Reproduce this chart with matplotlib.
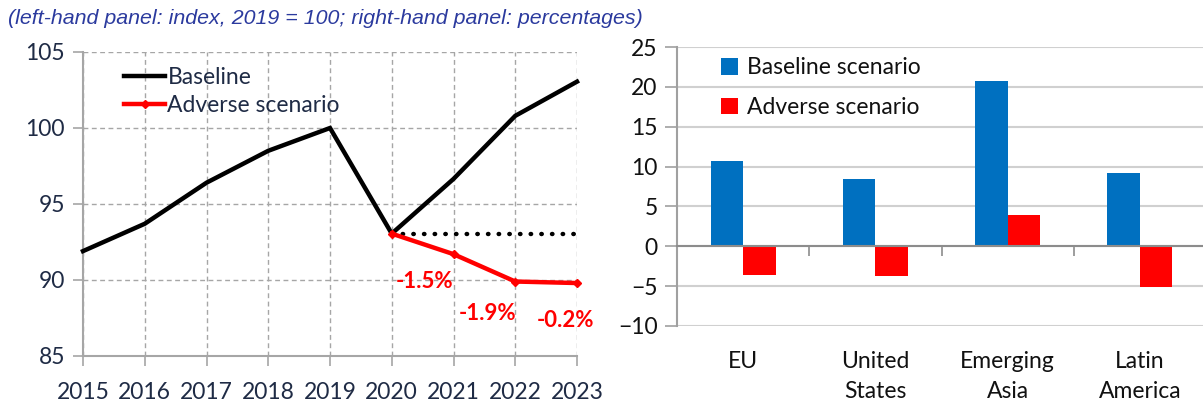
import matplotlib
matplotlib.use("Agg")
import matplotlib.pyplot as plt
import numpy as np
from matplotlib.lines import Line2D

# ---- data ----
years = [2015, 2016, 2017, 2018, 2019, 2020, 2021, 2022, 2023]
baseline_index = [91.9, 93.7, 96.4, 98.5, 100.0, 93.05, 96.65, 100.8, 103.05]
adverse_years = [2020, 2021, 2022, 2023]
adverse_index = [93.05, 91.7, 89.9, 89.8]
adverse_labels = ["-1.5%", "-1.9%", "-0.2%"]
flat_level = 93.05

regions = ["EU", "United\nStates", "Emerging\nAsia", "Latin\nAmerica"]
baseline_pct = [10.7, 8.5, 20.7, 9.25]
adverse_pct = [-3.6, -3.75, 3.9, -5.1]

FONT = "Lato"
NAVY = "#1f2b45"
GRID = "#a6a6a6"
BLUE = "#0070C0"
RED = "#FF0000"

W, H = 1203, 403
fig = plt.figure(figsize=(W / 100, H / 100), dpi=100)

def px_axes(x0, y0, x1, y1):
    return fig.add_axes([x0 / W, 1 - y1 / H, (x1 - x0) / W, (y1 - y0) / H])

# ---- title ----
fig.text(8 / W, 1 - 19 / H,
         "(left-hand panel: index, 2019 = 100; right-hand panel: percentages)",
         family="Liberation Sans", style="italic", fontsize=15.4,
         color="#2b3a9e", va="center", ha="left")

# ---- left panel ----
ax = px_axes(83, 52, 577, 356)
ax.set_xlim(years[0], years[-1])
ax.set_ylim(85, 105)
ax.set_yticks([85, 90, 95, 100, 105])
ax.set_xticks(years)
ax.grid(True, color=GRID, linestyle=(0, (3.5, 2.5)), linewidth=1.0)
ax.set_axisbelow(True)
for s in ["top", "right"]:
    ax.spines[s].set_visible(False)
for s in ["left", "bottom"]:
    ax.spines[s].set_color(GRID)
    ax.spines[s].set_linewidth(1.5)
ax.tick_params(axis="both", colors=GRID, length=7, width=1.2)
ax.tick_params(axis="y", pad=6)
ax.tick_params(axis="x", pad=12)
for lab in ax.get_xticklabels() + ax.get_yticklabels():
    lab.set_family(FONT)
    lab.set_fontsize(16.5)
    lab.set_color(NAVY)

ax.plot(adverse_years, [flat_level] * len(adverse_years), color="black",
        linestyle=(0, (0.1, 2.3)), linewidth=3.2, dash_capstyle="round",
        zorder=3)
ax.plot(years, baseline_index, color="black", linewidth=3.2, zorder=4,
        solid_joinstyle="miter", clip_on=False)
ax.plot(adverse_years, adverse_index, color=RED, linewidth=3.2, marker="D",
        markersize=4.5, zorder=5, clip_on=False)

offsets = [(-29, -27), (-28, -32), (-11, -37)]
for (xx, yy), lab, off in zip(zip(adverse_years[1:], adverse_index[1:]),
                              adverse_labels, offsets):
    ax.annotate(lab, xy=(xx, yy), xytext=off, textcoords="offset pixels",
                ha="center", va="center", color=RED, family=FONT,
                fontweight="bold", fontsize=16)

h1 = Line2D([], [], color="black", linewidth=3.2)
h2 = Line2D([], [], color=RED, linewidth=3.2, marker="D", markersize=4.5)
leg = ax.legend([h1, h2], ["Baseline", "Adverse scenario"], loc="upper left",
                bbox_to_anchor=(0.055, 0.995), frameon=False,
                prop={"family": FONT, "size": 16.5}, handlelength=1.8,
                handletextpad=0.1, labelspacing=0.3, borderaxespad=0.2)
for t in leg.get_texts():
    t.set_color(NAVY)

# ---- right panel ----
ax2 = px_axes(677, 47, 1206, 326)
x = np.arange(len(regions))
bw = 0.245
ax2.bar(x - bw / 2, baseline_pct, width=bw, color=BLUE, zorder=3,
        label="Baseline scenario")
ax2.bar(x + bw / 2, adverse_pct, width=bw, color=RED, zorder=3,
        label="Adverse scenario")
ax2.set_xlim(-0.5, len(regions) - 0.5)
ax2.set_ylim(-10, 25)
ax2.set_yticks(np.arange(-10, 26, 5))
ax2.yaxis.grid(True, color="#d0d0d0", linewidth=1.5)
ax2.set_axisbelow(True)
for s in ["top", "right"]:
    ax2.spines[s].set_visible(False)
ax2.spines["left"].set_color("#a0a0a0")
ax2.spines["left"].set_linewidth(1.5)
ax2.spines["bottom"].set_position(("data", 0))
ax2.spines["bottom"].set_color("#8c8c8c")
ax2.spines["bottom"].set_linewidth(1.5)
ax2.spines["bottom"].set_zorder(4)
ax2.set_xticks(np.arange(0.5, len(regions) - 0.5, 1.0))
ax2.set_xticklabels([])
ax2.tick_params(axis="x", colors="#8c8c8c", length=7, width=1.2)
ax2.tick_params(axis="y", colors="#a0a0a0", length=9, width=1.2, pad=5)
for lab in ax2.get_yticklabels():
    lab.set_family(FONT)
    lab.set_fontsize(16.5)
    lab.set_color("#111111")
for xi, reg in zip(x, regions):
    ax2.annotate(reg, xy=(xi, 0), xycoords=("data", "axes fraction"),
                 xytext=(0, -25), textcoords="offset pixels",
                 ha="center", va="top", family=FONT, fontsize=16.5,
                 color="#111111", linespacing=1.55)

leg2 = ax2.legend(loc="upper left", bbox_to_anchor=(0.058, 1.012),
                  frameon=False, prop={"family": FONT, "size": 16.5},
                  handlelength=0.72, handleheight=0.72, handletextpad=0.38,
                  labelspacing=0.8, borderaxespad=0.2)
for t in leg2.get_texts():
    t.set_color("#111111")

fig.savefig("out.png", dpi=100)
